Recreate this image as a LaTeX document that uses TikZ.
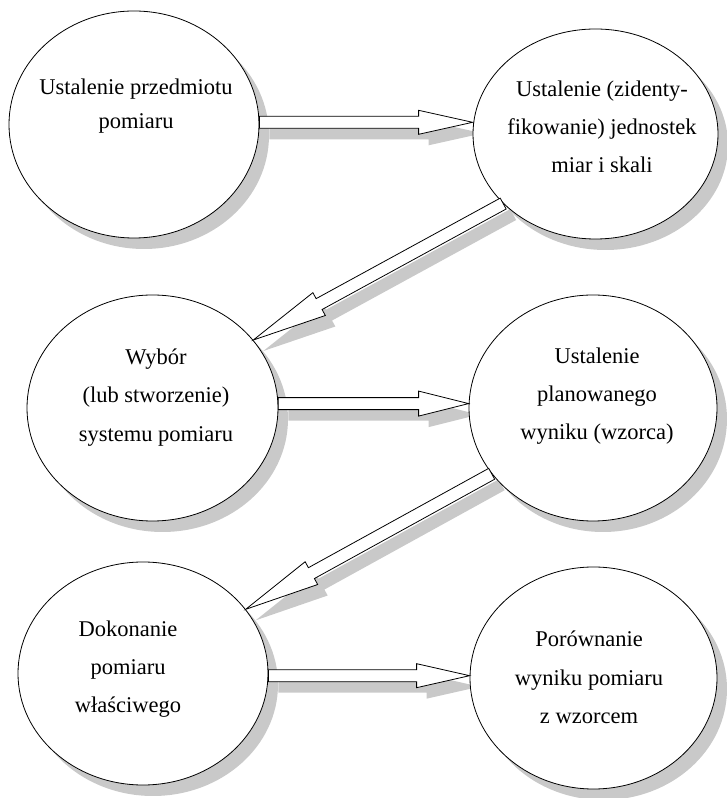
\documentclass[tikz,border=0pt]{standalone}
\usepackage{fontspec}
\setmainfont{Liberation Serif}
\usetikzlibrary{calc,shapes.geometric}
\pgfdeclarelayer{shadowlayer}
\pgfsetlayers{shadowlayer,main}
\definecolor{shadowgray}{gray}{0.79}
% block arrow geometry: #1 tail, #2 tip, #3 head length, #4 shaft half width, #5 head half width, #6 prefix
\newcommand\blockarrowpts[6]{%
  \coordinate (#6h) at ($(#2)!#3!(#1)$);
  \coordinate (#6a) at ($(#1)!#4!90:(#2)$);
  \coordinate (#6b) at ($(#6h)!#4!90:(#2)$);
  \coordinate (#6c) at ($(#6h)!#5!90:(#2)$);
  \coordinate (#6t) at (#2);
  \coordinate (#6d) at ($(#6h)!#5!-90:(#2)$);
  \coordinate (#6e) at ($(#6h)!#4!-90:(#2)$);
  \coordinate (#6f) at ($(#1)!#4!-90:(#2)$);
}
\newcommand\arrowshadow[1]{%
  \fill[shadowgray] ([shift={(10,-11)}]#1a) -- ([shift={(10,-11)}]#1b) -- ([shift={(10,-11)}]#1c) -- ([shift={(10,-11)}]#1t) -- ([shift={(10,-11)}]#1d) -- ([shift={(10,-11)}]#1e) -- ([shift={(10,-11)}]#1f) -- cycle;}
\newcommand\arrowbody[1]{%
  \draw[arrline] (#1a) -- (#1b) -- (#1c) -- (#1t) -- (#1d) -- (#1e) -- (#1f) -- cycle;}
\begin{document}
\begin{tikzpicture}[x=1pt,y=1pt,
  ell/.style={ellipse, draw, fill=white, line width=0.8pt, inner sep=0pt},
  arrline/.style={draw, fill=white, line width=0.8pt, line join=miter},
  txt/.style={font=\fontsize{22.5}{27}\selectfont, inner sep=0pt, anchor=base}]
\useasboundingbox (0,0) rectangle (727,798);
% ellipses
\node[ell, minimum width=250pt, minimum height=227pt] (e1) at (134,673.5) {};
\node[ell, minimum width=245pt, minimum height=210pt] (e2) at (595.5,664) {};
\node[ell, minimum width=251pt, minimum height=226pt] (e3) at (152.5,390) {};
\node[ell, minimum width=248pt, minimum height=226pt] (e4) at (593,390) {};
\node[ell, minimum width=250pt, minimum height=223pt] (e5) at (143,124.5) {};
\node[ell, minimum width=247pt, minimum height=222pt] (e6) at (593.5,120) {};
% arrow geometry
\coordinate (a1s) at (e1.1);
\coordinate (a1e) at (e1.1 -| e2.west);
\coordinate (a3s) at (e3.2);
\coordinate (a3e) at (e3.2 -| e4.west);
\coordinate (a5s) at (e5.-1);
\coordinate (a5e) at (e5.-1 -| e6.west);
\blockarrowpts{a1s}{a1e}{54pt}{6pt}{12pt}{A}
\blockarrowpts{e2.217}{e3.34}{75pt}{6.2pt}{13pt}{B}
\blockarrowpts{a3s}{a3e}{50pt}{6pt}{12.5pt}{C}
\blockarrowpts{e4.213}{e5.32}{75pt}{6.2pt}{13pt}{D}
\blockarrowpts{a5s}{a5e}{53pt}{6pt}{12pt}{E}
% shadows
\begin{pgfonlayer}{shadowlayer}
  \fill[shadowgray] ([shift={(10,-11)}]e1.center) ellipse (125 and 113.5);
  \fill[shadowgray] ([shift={(10,-11)}]e2.center) ellipse (122.5 and 105);
  \fill[shadowgray] ([shift={(10,-11)}]e3.center) ellipse (125.5 and 113);
  \fill[shadowgray] ([shift={(10,-11)}]e4.center) ellipse (124 and 113);
  \fill[shadowgray] ([shift={(10,-11)}]e5.center) ellipse (125 and 111.5);
  \fill[shadowgray] ([shift={(10,-11)}]e6.center) ellipse (123.5 and 111);
  \arrowshadow{A}
  \arrowshadow{B}
  \arrowshadow{C}
  \arrowshadow{D}
  \arrowshadow{E}
\end{pgfonlayer}
% arrows
\arrowbody{A}
\arrowbody{B}
\arrowbody{C}
\arrowbody{D}
\arrowbody{E}
% texts
\node[txt] (t1a) at (136,703) {Ustalenie przedmiotu};
\node[txt] (t1b) at (136,669) {pomiaru};
\node[txt] (t2a) at (602,701) {Ustalenie (zidenty-};
\node[txt] (t2b) at (602,663) {fikowanie) jednostek};
\node[txt] (t2c) at (602,625) {miar i skali};
\node[txt] (t3a) at (156,433) {Wybór};
\node[txt] (t3b) at (156,395) {(lub stworzenie)};
\node[txt] (t3c) at (156,356) {systemu pomiaru};
\node[txt] (t4a) at (597,434) {Ustalenie};
\node[txt] (t4b) at (597,396) {planowanego};
\node[txt] (t4c) at (597,358) {wyniku (wzorca)};
\node[txt] (t5a) at (128,161) {Dokonanie};
\node[txt] (t5b) at (128,123) {pomiaru};
\node[txt] (t5c) at (128,85) {właściwego};
\node[txt] (t6a) at (589,151) {Porównanie};
\node[txt] (t6b) at (589,112) {wyniku pomiaru};
\node[txt] (t6c) at (589,74) {z wzorcem};
\end{tikzpicture}
\end{document}
